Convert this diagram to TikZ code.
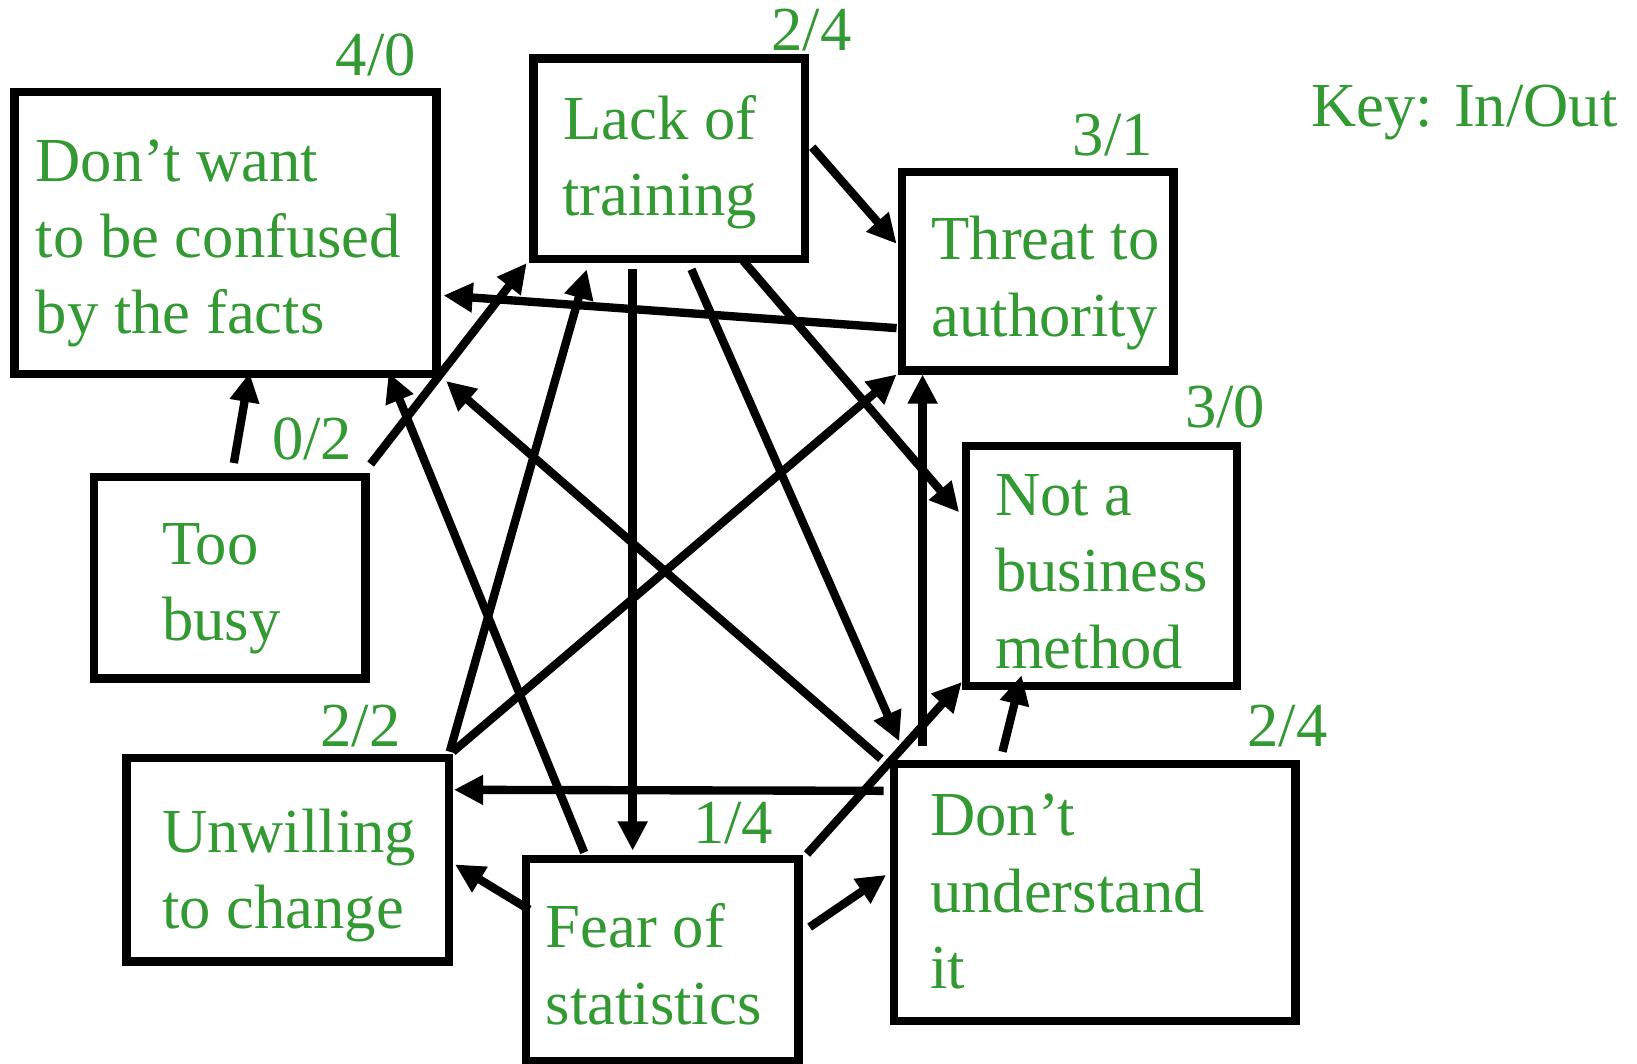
\documentclass[tikz,border=0pt]{standalone}
\usepackage{fontspec}
\setmainfont{Liberation Serif}
\usetikzlibrary{calc,arrows.meta}
\definecolor{labelgreen}{RGB}{51,153,51}
\begin{document}
\begin{tikzpicture}[x=1pt,y=-1pt,
  box/.style={draw=black, line width=8pt, inner sep=0pt, rectangle},
  txt/.style={text=labelgreen, font=\fontsize{60}{73}\selectfont, align=left, inner sep=0pt, anchor=base west},
  count/.style={text=labelgreen, font=\fontsize{60}{72}\selectfont, inner sep=0pt, anchor=base west},
  link/.style={draw=black, line width=8pt, -{Triangle[length=28pt,width=27pt]}}]
\useasboundingbox (0,0) rectangle (1568,1019);

% the eight reasons
\node[box, minimum width=404pt, minimum height=270pt] (want)   at (216,223)     {};
\node[box, minimum width=260pt, minimum height=192pt] (lack)   at (641,152)     {};
\node[box, minimum width=260pt, minimum height=190pt] (threat) at (994,260)     {};
\node[box, minimum width=260pt, minimum height=230pt] (notbiz) at (1055,542)    {};
\node[box, minimum width=260pt, minimum height=193pt] (busy)   at (220,553.5)   {};
\node[box, minimum width=309pt, minimum height=195pt] (unwill) at (275.5,823.5) {};
\node[box, minimum width=261pt, minimum height=193pt] (fear)   at (634.5,919.5) {};
\node[box, minimum width=385pt, minimum height=246pt] (dunder) at (1048.5,855)  {};

% box texts (anchored at the baseline of the last line)
\node[txt] (want-t)   at ($(want.north west)+(24,235.5)$)   {Don’t want\\to be confused\\by the facts};
\node[txt, align=center, anchor=base] (lack-t) at ($(lack.north west)+(125,154.6)$) {Lack of\\training};
\node[txt] (threat-t) at ($(threat.north west)+(32,161)$)   {Threat to\\authority};
\node[txt] (notbiz-t) at ($(notbiz.north west)+(32,217)$)   {Not a\\business\\method};
\node[txt] (busy-t)   at ($(busy.north west)+(69,160.6)$)   {Too\\busy};
\node[txt] (unwill-t) at ($(unwill.north west)+(38,167.5)$) {Unwilling\\to change};
\node[txt] (fear-t)   at ($(fear.north west)+(22.5,162)$)   {Fear of\\statistics};
\node[txt] (dunder-t) at ($(dunder.north west)+(38.8,218.6)$) {Don’t\\understand\\it};

% in/out counts
\node[count] (want-c)   at ($(want.north east)+(-100.4,-11.8)$)   {4/0};
\node[count] (lack-c)   at ($(lack.north east)+(-36.2,-3.5)$)     {2/4};
\node[count] (threat-c) at ($(threat.north east)+(-100.5,-12)$)   {3/1};
\node[count] (notbiz-c) at ($(notbiz.north east)+(-54.1,-13.4)$)  {3/0};
\node[count] (busy-c)   at ($(busy.north east)+(-93.5,-12.7)$)    {0/2};
\node[count] (unwill-c) at ($(unwill.north east)+(-127.4,-6.5)$)  {2/2};
\node[count] (fear-c)   at ($(fear.north east)+(-105.2,-11.2)$)   {1/4};
\node[count] (dunder-c) at ($(dunder.north east)+(-50.3,-12.5)$)  {2/4};
\node[count] (key) at (1256,121.4) {Key: In/Out};

% cause-and-effect links
\draw[link] ($(busy.north west)+(138,-9.5)$)  -- ($(want.south west)+(229,-5)$);
\draw[link] ($(busy.north east)+(1,-8.5)$)    -- ($(lack.south west)+(-2.5,0)$);
\draw[link] ($(fear.north west)+(59.6,-2.5)$) -- ($(want.south east)+(-49.8,-5)$);
\draw[link] ($(unwill.north east)+(-3.2,-2)$) -- ($(lack.south west)+(55,6)$);
\draw[link] ($(lack.south west)+(99,6)$)      -- ($(fear.north west)+(106,-4.2)$);
\draw[link] ($(lack.south west)+(155.3,6)$)   -- ($(dunder.north west)+(9.3,-18)$);
\draw[link] ($(lack.south west)+(205,-2)$)    -- ($(notbiz.north west)+(-2.3,67.7)$);
\draw[link] ($(lack.north east)+(3,89)$)      -- ($(threat.north west)+(-1.2,72.5)$);
\draw[link] ($(threat.north west)+(-1.2,153.3)$) -- ($(want.north east)+(2.8,199)$);
\draw[link] ($(unwill.north east)+(-0.2,-2)$) -- ($(threat.south west)+(-1.2,-0.4)$);
\draw[link] ($(dunder.north west)+(-8.2,-1.2)$) -- ($(want.south east)+(5.3,3)$);
\draw[link] ($(dunder.north west)+(31.7,-13)$) -- ($(threat.south west)+(23.7,-0.4)$);
\draw[link] ($(dunder.north west)+(108.2,-8)$) -- ($(notbiz.south west)+(57.5,-14.3)$);
\draw[link] ($(dunder.north west)+(-5.7,29.5)$) -- ($(unwill.north east)+(0.8,34.5)$);
\draw[link] ($(fear.north east)+(4,-1)$)      -- ($(notbiz.south west)+(0.2,-7.7)$);
\draw[link] ($(fear.north west)+(7,52.3)$)    -- ($(unwill.north east)+(1.8,106)$);
\draw[link] ($(fear.north east)+(6.5,69)$)    -- ($(dunder.north west)+(-3.2,110)$);
\end{tikzpicture}
\end{document}
